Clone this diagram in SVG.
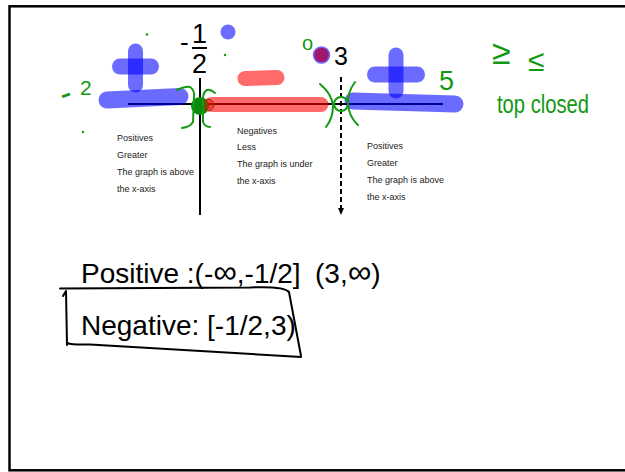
<svg xmlns="http://www.w3.org/2000/svg" width="625" height="472" viewBox="0 0 625 472">
<style>
.hb{stroke:#0000ff;stroke-opacity:0.58;stroke-linecap:round;fill:none}
.hr{stroke:#ff0000;stroke-opacity:0.58;stroke-linecap:round;fill:none}
.g{stroke:#129912;stroke-width:2;fill:none;stroke-linecap:round;stroke-linejoin:round}
.gt{fill:#129912;font-family:"Liberation Sans",Arial,sans-serif}
.num{fill:#000;font-family:"Liberation Sans",Arial,sans-serif}
.sm{fill:#222;font-family:"Liberation Sans",Arial,sans-serif;font-size:9px}
.big{fill:#000;font-family:"Liberation Sans",Arial,sans-serif;font-size:28px}
.inf{font-size:33px}
.ink{stroke:#000;stroke-width:2;fill:none;stroke-linecap:round;stroke-linejoin:round}
</style>
<defs>
<marker id="ah" markerWidth="8" markerHeight="8" refX="4" refY="4" orient="auto" markerUnits="userSpaceOnUse">
<path d="M0,1 L7,4 L0,7 Z" fill="#000"/>
</marker>
</defs>
<rect x="0" y="0" width="625" height="472" fill="#fff"/>
<rect x="9.5" y="6.3" width="700" height="464" fill="none" stroke="#000" stroke-width="2.5"/>

<g id="axis">
<line x1="128" y1="104" x2="443" y2="104" stroke="#000" stroke-width="2"/>
<line x1="200" y1="78" x2="200" y2="215" stroke="#000" stroke-width="2"/>
<line x1="341" y1="77" x2="341" y2="212" stroke="#000" stroke-width="2" stroke-dasharray="5,3" marker-end="url(#ah)"/>
</g>

<g id="labels">
<text class="num" x="180" y="51" font-size="26">-</text>
<text class="num" x="192" y="43" font-size="27">1</text>
<line x1="192" y1="48" x2="207" y2="48" stroke="#000" stroke-width="2"/>
<text class="num" x="192" y="73" font-size="27">2</text>
<text class="num" x="334" y="65" font-size="25">3</text>
</g>

<g id="highlights">
<line class="hb" x1="135.5" y1="51" x2="135.5" y2="85" stroke-width="15"/>
<line class="hb" x1="120" y1="66.5" x2="151" y2="66.5" stroke-width="16"/>
<line class="hb" x1="107" y1="100" x2="180" y2="96.5" stroke-width="17"/>
<line class="hr" x1="212" y1="104.5" x2="321" y2="104.5" stroke-width="15"/>
<line class="hr" x1="245" y1="78.5" x2="277" y2="77.5" stroke-width="15"/>
<line class="hb" x1="396" y1="55" x2="396" y2="91" stroke-width="15"/>
<line class="hb" x1="375" y1="74.5" x2="417" y2="74.5" stroke-width="16"/>
<line class="hb" x1="353" y1="101" x2="455" y2="104" stroke-width="17"/>
<circle cx="228" cy="32" r="7.5" fill="#0000ff" fill-opacity="0.58"/>
<circle cx="321.5" cy="55" r="8" fill="#a0186e" stroke="#6a6aff" stroke-width="1.5"/>
</g>

<g id="green-marks">
<circle cx="200" cy="106" r="9" fill="#0a8a0a"/>
<circle cx="208" cy="105" r="6" fill="#ff0000" fill-opacity="0.45" stroke="#8a3a10" stroke-width="1"/>
<path class="g" d="M177,90 Q186,86 190,87 Q195,90 194,98 L193,122 Q190,127 182,128"/>
<path class="g" d="M215,93 Q210,89 207,90 Q203,92 203,99 L203,122 Q205,127 210,127"/>
<path class="g" d="M320,84 Q332,94 333,106 Q333,118 326,127"/>
<path class="g" d="M355,82 Q347,93 348,104 Q349,117 358,125"/>
<circle cx="341" cy="104" r="7" fill="none" stroke="#129912" stroke-width="2"/>
<circle cx="147" cy="34.5" r="1.2" fill="#129912"/>
<circle cx="225" cy="55" r="1.2" fill="#129912"/>
<circle cx="83" cy="132" r="1.2" fill="#129912"/>
<text class="gt" x="60" y="104" font-size="34" transform="rotate(-20 67 94)">-</text>
<text class="gt" x="80" y="95" font-size="21">2</text>
<text class="gt" x="439" y="90" font-size="27">5</text>
<text class="gt" x="302" y="50" font-size="20">o</text>
<text class="gt" x="492" y="64" font-size="34">≥</text>
<text class="gt" x="528" y="71" font-size="30">≤</text>
<text class="gt" x="497" y="113" font-size="26" textLength="92" lengthAdjust="spacingAndGlyphs">top closed</text>
</g>

<g id="region-text">
<text class="sm" x="117" y="141">Positives</text>
<text class="sm" x="117" y="158">Greater</text>
<text class="sm" x="117" y="175">The graph is above</text>
<text class="sm" x="117" y="192">the x-axis</text>
<text class="sm" x="237" y="134">Negatives</text>
<text class="sm" x="237" y="150">Less</text>
<text class="sm" x="237" y="167">The graph is under</text>
<text class="sm" x="237" y="184">the x-axis</text>
<text class="sm" x="367" y="149">Positives</text>
<text class="sm" x="367" y="166">Greater</text>
<text class="sm" x="367" y="183">The graph is above</text>
<text class="sm" x="367" y="200">the x-axis</text>
</g>

<g id="answers">
<text class="big" x="81" y="283">Positive :(-<tspan class="inf">∞</tspan>,-1/2]<tspan x="315">(3,</tspan><tspan class="inf">∞</tspan>)</text>
<text class="big" x="81" y="335">Negative: [-1/2,3)</text>
<path class="ink" d="M60,288.5 L250,287.5 Q284,286 289,292 L301,356"/>
<path class="ink" d="M63,296 L66,291 L67,345"/>
<path class="ink" d="M67,343 Q72,345 90,344.5 L301,357"/>
</g>
</svg>
